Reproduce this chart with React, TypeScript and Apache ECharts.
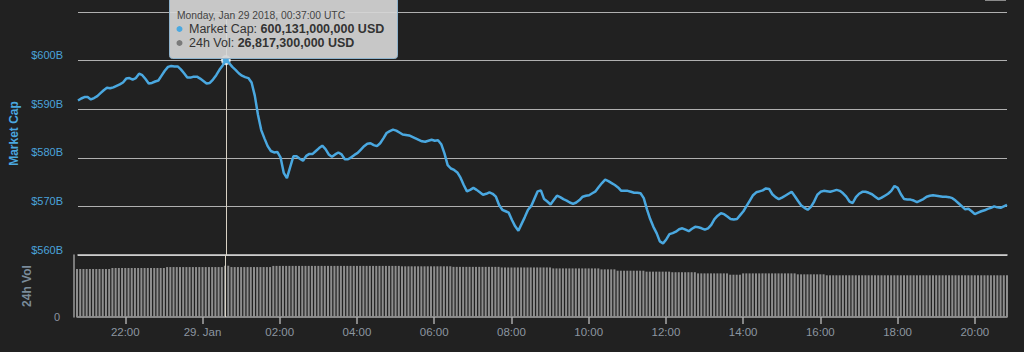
import React, { useEffect, useRef } from 'react';
import * as echarts from 'echarts';

// 5-minute slots starting 28 Jan 2018, 20:45 UTC
const START_MIN = 20 * 60 + 45;
const STEP_MIN = 5;
const DAY_LABEL = '29. Jan';

// Market cap, billions USD
const marketCapB = [
  591.8, 592.2, 592.5, 592.5, 592.0, 592.3, 592.7, 593.3, 593.9, 594.4,
  594.3, 594.5, 594.8, 595.1, 595.5, 596.3, 596.4, 596.1, 596.4, 597.3,
  597.0, 596.2, 595.3, 595.4, 595.7, 595.9, 596.9, 597.9, 598.7, 598.9,
  598.8, 598.8, 598.2, 597.4, 596.5, 596.5, 596.7, 596.7, 596.3, 595.8,
  595.3, 595.4, 596.1, 597.0, 598.1, 599.0, 600.1, 599.5, 598.7, 598.1,
  597.4, 596.9, 596.6, 596.4, 595.5, 592.8, 588.8, 585.7, 584.0, 582.4,
  581.4, 581.1, 581.2, 580.1, 576.9, 575.8, 578.1, 580.3, 580.3, 579.8,
  579.4, 580.4, 580.8, 580.8, 581.4, 582.0, 582.5, 581.8, 580.7, 580.2,
  580.7, 581.1, 580.7, 579.7, 579.7, 580.1, 580.6, 581.0, 581.7, 582.4,
  582.9, 583.0, 582.6, 582.4, 583.0, 584.0, 585.1, 585.5, 585.8, 585.6,
  585.2, 584.8, 584.7, 584.6, 584.3, 584.0, 583.7, 583.4, 583.3, 583.5,
  583.7, 583.5, 583.6, 582.8, 580.9, 578.5, 577.8, 577.5, 577.0, 575.9,
  574.4, 573.1, 573.4, 573.8, 573.4, 572.9, 572.4, 572.6, 572.9, 572.6,
  572.0, 570.3, 569.3, 569.0, 568.7, 567.2, 565.9, 565.0, 566.4, 567.8,
  569.3, 570.1, 571.6, 573.1, 573.3, 571.5, 571.0, 570.4, 571.3, 572.2,
  571.9, 571.5, 571.2, 570.8, 570.5, 570.8, 571.3, 572.0, 572.2, 572.3,
  572.7, 573.1, 574.0, 574.8, 575.5, 575.2, 574.8, 574.4, 573.9, 573.2,
  573.2, 573.2, 573.0, 572.8, 572.8, 572.7, 571.7, 569.4, 567.4, 565.8,
  564.5, 562.8, 562.4, 563.2, 564.3, 564.5, 564.8, 565.3, 565.5, 565.2,
  564.9, 565.4, 565.8, 565.7, 565.5, 565.2, 565.5, 566.2, 567.4, 568.1,
  568.6, 568.4, 567.9, 567.4, 567.3, 567.4, 568.2, 569.0, 570.1, 571.2,
  572.3, 572.9, 573.1, 573.3, 573.7, 573.6, 572.5, 571.9, 571.5, 571.8,
  572.2, 572.6, 573.0, 572.1, 571.1, 570.2, 569.7, 569.3, 569.9, 571.0,
  572.4, 573.0, 573.2, 573.1, 573.0, 573.2, 573.4, 573.2, 572.7, 572.0,
  571.0, 570.7, 571.9, 572.6, 573.0, 573.0, 572.8, 572.5, 572.0, 571.5,
  571.8, 572.2, 572.6, 573.2, 574.2, 573.8, 572.5, 571.5, 571.4, 571.4,
  571.2, 570.9, 571.2, 571.5, 572.0, 572.2, 572.3, 572.2, 572.1, 572.0,
  572.0, 571.9, 571.7, 571.2, 570.6, 570.0, 569.4, 569.5, 569.0, 568.4,
  568.7, 569.0, 569.2, 569.5, 569.7, 570.0, 569.8, 569.7, 570.0, 570.3,
];

// 24h volume, billions USD
const volumeB = [
  25.1, 25.1, 25.1, 25.1, 25.1, 25.1, 25.1, 25.1, 25.1, 25.1, 25.1,
  25.6, 25.6, 25.6, 25.6, 25.6, 25.6, 25.6, 25.6, 25.6, 25.6, 25.6, 25.6, 25.6, 25.6, 25.6, 25.6, 25.6,
  26.1, 26.1, 26.1, 26.1, 26.1, 26.1, 26.1, 26.1, 26.1, 26.1, 26.1, 26.1, 26.1, 26.1, 26.1, 26.1, 26.1, 26.1,
  26.8, 26.8,
  26.1, 26.1, 26.1, 26.1, 26.1, 26.1, 26.1, 26.1, 26.1, 26.1, 26.1, 26.1, 26.1,
  26.7, 26.7, 26.7, 26.7, 26.7, 26.7, 26.7, 26.7, 26.7, 26.7,
  26.7, 26.7, 26.7, 26.7, 26.7, 26.7, 26.7, 26.7, 26.7, 26.7,
  26.7, 26.7, 26.7, 26.7, 26.7, 26.7, 26.7, 26.7, 26.7, 26.7,
  26.7, 26.7, 26.7, 26.7, 26.7, 26.7, 26.7, 26.7, 26.7, 26.7,
  26.5, 26.5, 26.5, 26.5, 26.5, 26.5, 26.5, 26.5, 26.5, 26.5, 26.5, 26.5, 26.5, 26.5, 26.5, 26.5,
  26.2, 26.2, 26.2, 26.2, 26.2, 26.2, 26.2, 26.2, 26.2, 26.2, 26.2, 26.2, 26.2, 26.2, 26.2,
  25.9, 25.9, 25.9, 25.9, 25.9, 25.9, 25.9, 25.9, 25.9, 25.9, 25.9, 25.9, 25.9, 25.9, 25.9, 25.9,
  25.4, 25.4, 25.4, 25.4, 25.4, 25.4, 25.4, 25.4, 25.4, 25.4, 25.4, 25.4, 25.4, 25.4, 25.4,
  24.9, 24.9, 24.9, 24.9, 24.9,
  24.2, 24.2, 24.2, 24.2, 24.2, 24.2, 24.2, 24.2, 24.2,
  23.7, 23.7, 23.7, 23.7, 23.7, 23.7, 23.7, 23.7,
  23.4, 23.4, 23.4, 23.4, 23.4, 23.4, 23.4, 23.4,
  22.8, 22.8, 22.8, 22.8, 22.8, 22.8, 22.8, 22.8, 22.8, 22.8,
  22.1, 22.1, 22.1, 22.1,
  22.8, 22.8, 22.8, 22.8, 22.8, 22.8, 22.8, 22.8, 22.8, 22.8, 22.8, 22.8, 22.8, 22.8, 22.8, 22.8, 22.8,
  22.3, 22.3, 22.3, 22.3, 22.3, 22.3, 22.3, 22.3, 22.3,
  21.8, 21.8, 21.8, 21.8, 21.8, 21.8, 21.8, 21.8, 21.8, 21.8,
  21.8, 21.8, 21.8, 21.8, 21.8, 21.8, 21.8, 21.8, 21.8, 21.8,
  21.8, 21.8, 21.8, 21.8, 21.8, 21.8, 21.8, 21.8, 21.8, 21.8,
  21.8, 21.8, 21.8, 21.8, 21.8, 21.8, 21.8, 21.8, 21.8, 21.8,
  21.8, 21.8, 21.8, 21.8, 21.8, 21.8, 21.8, 21.8, 21.8, 21.8,
  21.8, 21.8, 21.8, 21.8, 21.8, 21.8, 21.8,
];

const CAP_MIN = 560;
const CAP_MAX = 610;
const CAP_STEP = 10;
const VOL_MAX = 32.4;

const HOVER_INDEX = 46;
const TIP_DATE = 'Monday, Jan 29 2018, 00:37:00 UTC';
const TIP_CAP_LABEL = 'Market Cap: ';
const TIP_CAP_VALUE = '600,131,000,000 USD';
const TIP_VOL_LABEL = '24h Vol: ';
const TIP_VOL_VALUE = '26,817,300,000 USD';

const pad = (n: number) => (n < 10 ? '0' + n : '' + n);
const times = marketCapB.map((_, i) => {
  const m = START_MIN + i * STEP_MIN;
  const h = Math.floor(m / 60) % 24;
  const mm = m % 60;
  if (h === 0 && mm === 0) return DAY_LABEL;
  return pad(h) + ':' + pad(mm);
});
const isMajor = (_idx: number, val: string) =>
  val === DAY_LABEL || (val.endsWith(':00') && Number(val.slice(0, 2)) % 2 === 0);

const FONT = '"Liberation Sans", Arial, sans-serif';
const BLUE = '#4aa8e0';

export default function App() {
  const ref = useRef<HTMLDivElement>(null);
  useEffect(() => {
    const chart = echarts.init(ref.current!, undefined, { renderer: 'svg' });
    const option: any = {
      animation: false,
      backgroundColor: '#212121',
      textStyle: { fontFamily: FONT },
      grid: [
        { left: 77, top: 12, width: 930, height: 243 },
        { left: 77, top: 255, width: 930, height: 62 },
      ],
      xAxis: [
        {
          type: 'category', gridIndex: 0, data: times, boundaryGap: false,
          axisLine: { show: true, lineStyle: { color: '#d6d6d6', width: 1.5 } },
          axisTick: { show: false }, axisLabel: { show: false }, splitLine: { show: false },
        },
        {
          type: 'category', gridIndex: 1, data: times, boundaryGap: false,
          axisLine: { show: true, lineStyle: { color: '#a8a8a8', width: 1.5 } },
          axisTick: { show: true, interval: isMajor, length: 7, lineStyle: { color: '#a8a8a8', width: 1.5 } },
          axisLabel: { interval: isMajor, color: '#8c96a0', fontSize: 11.5, margin: 9, fontFamily: FONT },
          splitLine: { show: false },
        },
      ],
      yAxis: [
        {
          type: 'value', gridIndex: 0, min: CAP_MIN, max: CAP_MAX, interval: CAP_STEP,
          name: 'Market Cap', nameLocation: 'middle', nameGap: 58,
          nameTextStyle: { color: BLUE, fontWeight: 'bold', fontSize: 12, fontFamily: FONT },
          axisLine: { show: false }, axisTick: { show: false },
          axisLabel: {
            formatter: (v: number) => (v === CAP_MAX ? '' : '$' + v + 'B'),
            color: '#4aa3dc', fontSize: 11, margin: 15, verticalAlign: 'bottom', fontFamily: FONT,
          },
          splitLine: { lineStyle: { color: '#b0b0b0', width: 1.2 } },
        },
        {
          type: 'value', gridIndex: 1, min: 0, max: VOL_MAX, interval: VOL_MAX, offset: 3,
          name: '24h Vol', nameLocation: 'middle', nameGap: 41,
          nameTextStyle: { color: '#7b8c9b', fontWeight: 'bold', fontSize: 12, fontFamily: FONT },
          axisLine: { show: true, lineStyle: { color: '#999999', width: 1.5 } },
          axisTick: { show: false },
          axisLabel: { formatter: (v: number) => (v === 0 ? '0' : ''), color: '#8c96a0', fontSize: 11, margin: 14, fontFamily: FONT },
          splitLine: { show: false },
        },
      ],
      series: [
        {
          type: 'line', xAxisIndex: 0, yAxisIndex: 0, data: marketCapB,
          showSymbol: false, z: 5,
          lineStyle: { color: BLUE, width: 2.5 }, itemStyle: { color: BLUE },
          markLine: {
            silent: true, symbol: ['none', 'none'], label: { show: false },
            lineStyle: { color: '#d8d2c4', width: 1, type: 'solid' },
            data: [{ xAxis: times[HOVER_INDEX] }],
          },
          markPoint: {
            symbol: 'circle', symbolSize: 8, label: { show: false },
            itemStyle: { color: BLUE, borderColor: 'rgba(255,255,255,0.75)', borderWidth: 2 },
            data: [{ coord: [times[HOVER_INDEX], marketCapB[HOVER_INDEX]] }],
          },
        },
        {
          type: 'bar', xAxisIndex: 1, yAxisIndex: 1, data: volumeB,
          barWidth: 2, itemStyle: { color: '#8e8e8e' },
          markLine: {
            silent: true, symbol: ['none', 'none'], label: { show: false },
            lineStyle: { color: '#d8d2c4', width: 1, type: 'solid' },
            data: [{ xAxis: times[HOVER_INDEX] }],
          },
        },
      ],
      graphic: [
        { type: 'rect', z: 100, shape: { x: 985, y: -1, width: 21, height: 2 }, style: { fill: '#8a8a8a' } },
        {
          type: 'rect', z: 100, shape: { x: 169.5, y: -10, width: 228, height: 68.5, r: 3 },
          style: { fill: 'rgba(214,214,214,0.92)', stroke: '#8fb3cc', lineWidth: 1 },
        },
        {
          type: 'text', z: 101, x: 177, y: 15,
          style: { text: TIP_DATE, fill: '#444444', fontSize: 10.3, fontFamily: FONT, verticalAlign: 'middle' },
        },
        { type: 'circle', z: 101, shape: { cx: 179.5, cy: 29, r: 3 }, style: { fill: BLUE } },
        {
          type: 'text', z: 101, x: 189, y: 29,
          style: {
            text: '{a|' + TIP_CAP_LABEL + '}{b|' + TIP_CAP_VALUE + '}', verticalAlign: 'middle',
            rich: {
              a: { fill: '#333333', fontSize: 12.5, fontFamily: FONT },
              b: { fill: '#333333', fontSize: 12.5, fontFamily: FONT, fontWeight: 'bold' },
            },
          },
        },
        { type: 'circle', z: 101, shape: { cx: 179.5, cy: 43, r: 3 }, style: { fill: '#7a7a7a' } },
        {
          type: 'text', z: 101, x: 189, y: 43,
          style: {
            text: '{a|' + TIP_VOL_LABEL + '}{b|' + TIP_VOL_VALUE + '}', verticalAlign: 'middle',
            rich: {
              a: { fill: '#333333', fontSize: 12.5, fontFamily: FONT },
              b: { fill: '#333333', fontSize: 12.5, fontFamily: FONT, fontWeight: 'bold' },
            },
          },
        },
      ],
    };
    chart.setOption(option);
    return () => chart.dispose();
  }, []);
  return (
    <div
      ref={ref}
      style={{ position: 'fixed', left: 0, top: 0, width: 1024, height: 352, background: '#212121' }}
    />
  );
}
